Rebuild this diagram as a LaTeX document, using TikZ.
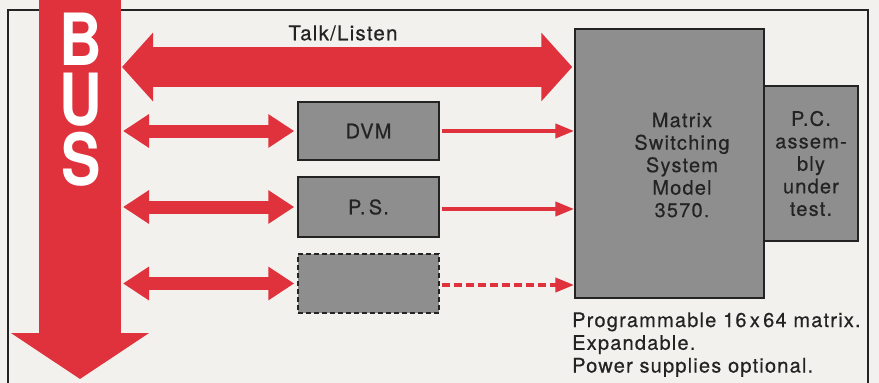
\documentclass[tikz,border=0pt]{standalone}
\usepackage{fontspec}
\setmainfont{TeX Gyre Heros}[LetterSpace=6, FakeBold=0.5]
\newfontfamily\busfont{TeX Gyre Heros}[FakeStretch=0.82]
\usetikzlibrary{positioning,arrows.meta}

\definecolor{busred}{RGB}{224,50,60}
\definecolor{boxgray}{RGB}{142,142,142}
\definecolor{paper}{RGB}{242,241,238}
\definecolor{ink}{RGB}{35,35,35}

\tikzset{
  unitbox/.style={draw=ink, line width=1.5pt, fill=boxgray, inner sep=0pt,
                  font=\fontsize{20}{22.5}\selectfont, align=center, text=ink},
  busletter/.style={font=\busfont\bfseries\fontsize{72}{72}\selectfont, text=white,
                    inner sep=0pt, anchor=base},
  fatlink/.style={draw=busred, line width=13pt,
                  {Triangle[length=26pt,width=32pt]}-{Triangle[length=26pt,width=32pt]}},
  thinlink/.style={draw=busred, line width=4pt, -{Triangle[length=19pt,width=14pt]}}
}

\begin{document}
\begin{tikzpicture}[x=1pt, y=-1pt]
      \useasboundingbox (0,0) rectangle (879,383);
      \clip (0,0) rectangle (879,383);
      \fill[paper] (0,0) rectangle (879,383);
      \draw[ink, line width=1.8pt] (8,10) rectangle (868,420);

      % the bus
      \coordinate (bus top) at (80,-5);
      \coordinate (bus end) at (80,379);
      \coordinate (bus edge) at (121,0);
      \draw[busred, line width=82pt, -{Triangle[length=46pt,width=136pt]}] (bus top) -- (bus end);
      \node[busletter] (bus b) at (81,65)  {B};
      \node[busletter] (bus u) at (81,125) {U};
      \node[busletter] (bus s) at (81,185) {S};

      % units
      \node[unitbox, minimum width=141pt, minimum height=58pt] (dvm)   at (368.5,131) {DVM};
      \node[unitbox, minimum width=141pt, minimum height=60pt] (ps)    at (368.5,207) {P.\,S.};
      \node[unitbox, dashed, dash pattern=on 5pt off 3pt,
            minimum width=141pt, minimum height=59pt]          (spare) at (368.5,283.5) {};
      \node[unitbox, minimum width=94pt, minimum height=155pt] (pc)     at (811,163.5)
            {P.C.\\assem-\\bly\\under\\test.};
      \node[unitbox, minimum width=189pt, minimum height=269pt] (matrix) at (669.5,163.5) {};
      \node[font=\fontsize{20}{22.5}\selectfont, align=center, text=ink, inner sep=0pt]
            (matrix text) at (682,165) {Matrix\\Switching\\System\\Model\\3570.};

      % talk/listen
      \coordinate (talk) at (0,67);
      \draw[busred, line width=40pt,
            {Triangle[length=31pt,width=67pt]}-{Triangle[length=31pt,width=67pt]}]
            ([xshift=1pt]bus edge |- talk) -- ([xshift=-2pt]matrix.west |- talk);
      \node[font=\fontsize{20.5}{22}\selectfont, text=ink, inner sep=0pt] (talk label) at (343,33) {Talk/Listen};

      % links
      \draw[fatlink] ([xshift=2pt]bus edge |- dvm) -- ([xshift=-3pt]dvm.west);
      \draw[fatlink] ([xshift=2pt]bus edge |- ps.west) -- ([xshift=-3pt]ps.west);
      \draw[fatlink] ([xshift=2pt]bus edge |- spare.west) -- ([xshift=-3pt]spare.west);
      \draw[thinlink] ([xshift=2pt]dvm.east) -- (matrix.west |- dvm.east);
      \draw[thinlink] ([xshift=2pt]ps.east |- 0,209) -- (matrix.west |- 0,209);
      \draw[thinlink, dash pattern=on 8pt off 4pt] ([xshift=2pt]spare.east |- 0,285) -- (matrix.west |- 0,285);

      \node[font=\fontsize{20}{22.75}\selectfont, text=ink, align=left, inner sep=0pt,
            anchor=base west] (notes) at (572,372.5)
            {Programmable 16\,x\,64 matrix.\\Expandable.\\Power supplies optional.};
\end{tikzpicture}
\end{document}
